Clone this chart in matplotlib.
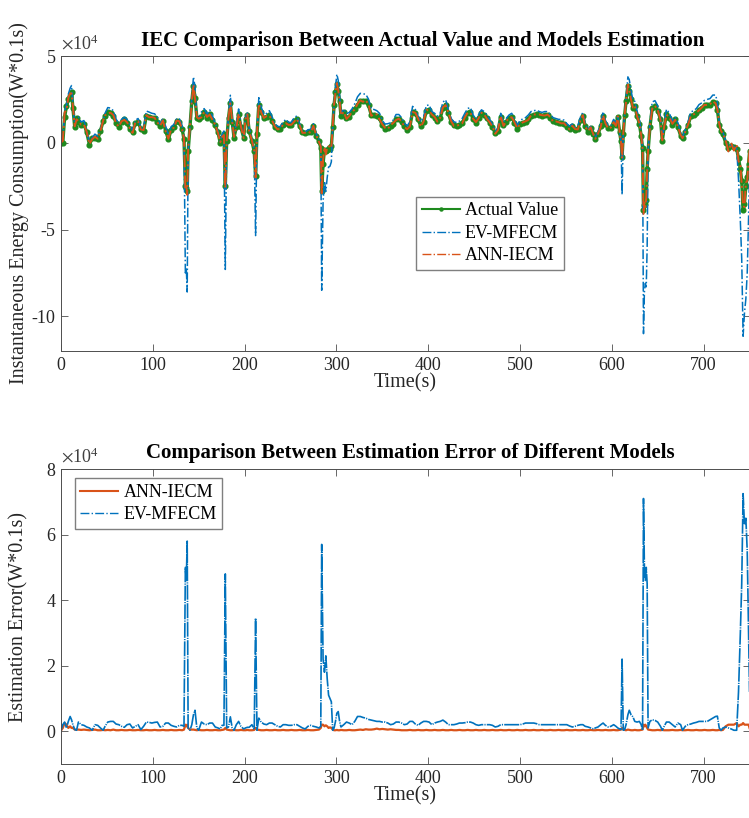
import matplotlib
matplotlib.use("Agg")
import matplotlib.pyplot as plt
import numpy as np
from matplotlib.lines import Line2D

plt.rcParams['font.family'] = ['Liberation Serif', 'DejaVu Serif']
plt.rcParams['mathtext.fontset'] = 'stix'
plt.rcParams['axes.unicode_minus'] = False

# time (s) of each read-off sample
t = [0, 2, 4, 6, 8, 10, 11.5, 13, 15, 17,
     19, 22, 25, 28, 31, 34, 37, 40, 43, 46,
     48, 51, 54, 57, 60, 63, 66, 69, 72, 75,
     78, 81, 84, 87, 90, 93, 96, 99, 102, 105,
     108, 111, 114, 117, 120, 123, 126, 129, 132, 134,
     135.5, 136.5, 137.5, 138.5, 140.5, 142.5, 144.3, 146, 148, 150,
     153, 156, 159, 162, 165, 168, 171, 173.5, 175.5, 177.5,
     179, 180.5, 182.5, 184.5, 186.5, 188.5, 191, 193.5, 196, 199,
     201, 203, 205, 208, 210.5, 212, 213.5, 215.5, 218, 221,
     224, 227, 230, 233, 236, 239, 242, 245, 248, 251,
     254, 257, 260, 263, 266, 269, 272, 275, 278, 281,
     283, 284, 285.5, 287, 288.5, 290, 291.5, 293, 294.5, 296,
     297.5, 299, 300.5, 302, 303.5, 305, 308, 311, 314, 317,
     320, 323, 326, 329, 332, 335, 338, 341, 344, 347,
     350, 353, 356, 359, 362, 365, 368, 371, 374, 377,
     380, 383, 386, 389, 392, 395, 398, 401, 404, 407,
     410, 413, 416, 419, 422, 425, 428, 431, 434, 437,
     440, 443, 446, 449, 452, 455, 458, 461, 464, 467,
     470, 473, 476, 479, 482, 485, 488, 491, 494, 497,
     500, 503, 506, 509, 512, 515, 518, 521, 524, 527,
     530, 533, 536, 539, 542, 545, 548, 551, 554, 557,
     560, 563, 566, 568.5, 571, 574, 577, 580, 582, 585,
     588, 590.5, 593, 596, 599, 602, 604.5, 606.5, 608.5, 610,
     611.2, 612.5, 614, 615.5, 617.5, 619, 621, 623, 625, 627.5,
     630, 632, 633.5, 634.5, 635.5, 636.5, 637.5, 638.5, 639.5, 641.5,
     644, 647, 650, 653, 655, 657, 659.5, 662.5, 666, 669,
     672, 675, 677, 680, 683, 686, 689, 692, 695, 698,
     701, 704, 707, 710, 713, 715, 717, 719, 721, 724,
     727, 730, 733, 736, 738, 740, 741.5, 743, 744.5, 746,
     747.5, 749, 750]

# actual instantaneous energy consumption (x1e4 W*0.1s)
actual = [0.0, 0.0, 1.5, 2.1, 2.5, 2.7, 2.95, 2.0, 0.9, 1.4,
          1.2, 1.0, 1.1, 0.6, -0.1, 0.25, 0.3, 0.2, 0.7, 1.25,
          1.55, 1.75, 1.7, 1.55, 1.15, 0.9, 1.2, 1.35, 1.15, 0.8,
          0.6, 1.15, 1.2, 0.8, 0.7, 1.55, 1.5, 1.45, 1.4, 1.2,
          0.95, 1.25, 0.7, 0.2, 0.75, 0.9, 1.25, 1.2, 0.8, 0.2,
          -2.5, -2.6, -2.8, -0.5, 0.9, 2.4, 3.3, 2.6, 1.45, 1.35,
          1.5, 1.75, 1.45, 1.65, 1.3, 1.0, 0.6, 0.0, 0.3, 0.5,
          -2.5, 0.1, 1.45, 2.3, 1.2, 0.3, 0.9, 1.65, 0.9, 0.3,
          1.35, 1.6, 0.7, 0.1, -0.5, -1.9, 0.5, 2.2, 1.8, 1.4,
          1.5, 1.6, 1.25, 0.9, 0.8, 0.8, 1.0, 1.15, 1.0, 1.0,
          1.25, 1.35, 0.95, 0.6, 0.55, 0.6, 0.6, 0.95, 0.4, 0.1,
          -0.3, -2.8, -1.2, -0.4, -0.5, -0.4, -0.3, -0.35, -0.2, 0.9,
          2.2, 2.9, 3.4, 3.0, 2.4, 1.55, 1.75, 1.4, 1.5, 1.75,
          1.95, 2.2, 2.4, 2.4, 2.4, 2.15, 1.6, 1.6, 1.55, 1.4,
          1.0, 0.8, 0.85, 0.95, 1.1, 1.35, 1.35, 1.2, 0.95, 0.75,
          0.9, 1.8, 1.7, 1.35, 0.95, 1.2, 1.85, 1.9, 1.6, 1.45,
          1.25, 1.4, 2.0, 2.2, 1.7, 1.2, 1.0, 0.95, 1.0, 1.15,
          1.45, 1.7, 1.75, 1.35, 1.15, 1.45, 1.7, 1.6, 1.4, 1.15,
          0.9, 0.55, 0.7, 1.5, 1.0, 1.2, 1.4, 1.5, 1.15, 0.8,
          1.1, 1.15, 1.2, 1.35, 1.55, 1.6, 1.65, 1.6, 1.55, 1.6,
          1.6, 1.45, 1.25, 1.2, 1.15, 1.15, 1.1, 0.9, 0.8, 0.95,
          0.75, 0.8, 1.3, 1.55, 0.95, 0.65, 0.85, 0.5, 0.2, 0.5,
          0.95, 1.55, 1.1, 0.85, 0.85, 1.15, 1.0, 1.5, 0.6, 0.1,
          -0.8, 0.5, 1.6, 2.4, 3.3, 3.0, 2.5, 2.0, 2.1, 1.55,
          1.1, 0.4, -0.3, -3.9, -3.6, -3.5, -3.3, -1.5, -0.5, 0.9,
          2.0, 2.1, 1.85, 1.35, 0.1, 0.9, 1.65, 1.45, 1.05, 1.35,
          0.9, 0.4, 0.3, 0.6, 1.0, 1.55, 1.6, 1.7, 1.9, 2.0,
          2.15, 2.2, 2.2, 2.35, 2.3, 1.9, 1.05, 0.7, 0.5, 0.0,
          -0.3, -0.2, -0.25, -0.35, -0.9, -1.5, -2.2, -3.9, -3.5, -2.5,
          -2.0, -1.2, -0.5]

# EV-MFECM estimate minus actual (x1e4)
ev_dev = [0.03, 0.2, 0.28, 0.1, 0.3, 0.45, 0.35, 0.2, 0.05, 0.03,
          0.28, 0.2, 0.18, 0.13, 0.1, 0.03, 0.2, 0.18, 0.1, 0.03,
          0.15, 0.28, 0.3, 0.3, 0.22, 0.2, 0.15, 0.12, 0.2, 0.22,
          0.1, 0.15, 0.2, 0.05, 0.15, 0.28, 0.27, 0.25, 0.27, 0.28,
          0.13, 0.15, 0.25, 0.25, 0.18, 0.15, 0.13, 0.18, 0.18, 0.15,
          -5.0, -4.6, -5.8, -0.1, 0.03, 0.2, 0.5, 0.64, 0.1, 0.03,
          0.28, 0.22, 0.2, 0.25, 0.25, 0.13, 0.1, 0.07, 0.18, 0.18,
          -4.8, -0.1, 0.13, 0.44, 0.1, 0.03, 0.2, 0.3, 0.15, 0.07,
          0.1, 0.12, 0.12, 0.2, 0.05, -3.45, 0.03, 0.4, 0.28, 0.22,
          0.2, 0.25, 0.25, 0.2, 0.15, 0.13, 0.2, 0.2, 0.18, 0.18,
          0.2, 0.2, 0.15, 0.1, 0.07, 0.15, 0.18, 0.15, 0.13, 0.1,
          0.15, -5.7, -2.2, -1.8, -2.3, -1.6, -1.1, -1.0, -0.9, 0.03,
          0.1, 0.3, 0.55, 0.6, 0.3, 0.13, 0.2, 0.28, 0.25, 0.2,
          0.3, 0.45, 0.45, 0.42, 0.4, 0.36, 0.34, 0.32, 0.3, 0.3,
          0.28, 0.28, 0.25, 0.2, 0.22, 0.28, 0.28, 0.25, 0.2, 0.22,
          0.3, 0.3, 0.22, 0.18, 0.25, 0.3, 0.3, 0.28, 0.2, 0.25,
          0.28, 0.3, 0.34, 0.28, 0.2, 0.2, 0.2, 0.22, 0.25, 0.25,
          0.26, 0.28, 0.28, 0.25, 0.2, 0.18, 0.2, 0.2, 0.2, 0.2,
          0.18, 0.13, 0.15, 0.2, 0.2, 0.2, 0.2, 0.2, 0.2, 0.2,
          0.2, 0.22, 0.25, 0.25, 0.25, 0.25, 0.23, 0.2, 0.2, 0.2,
          0.2, 0.2, 0.2, 0.2, 0.2, 0.2, 0.2, 0.2, 0.16, 0.13,
          0.15, 0.18, 0.2, 0.2, 0.15, 0.13, 0.1, 0.07, 0.1, 0.13,
          0.2, 0.25, 0.18, 0.13, 0.15, 0.2, 0.15, 0.1, 0.07, 0.05,
          -2.2, 0.03, 0.05, 0.2, 0.5, 0.64, 0.5, 0.44, 0.3, 0.28,
          0.3, 0.2, 0.03, -7.1, -5.0, -4.6, -5.0, -4.5, -0.1, 0.3,
          0.35, 0.33, 0.28, 0.15, 0.03, 0.15, 0.28, 0.28, 0.2, 0.13,
          0.25, 0.2, 0.03, 0.15, 0.2, 0.22, 0.25, 0.27, 0.3, 0.3,
          0.3, 0.3, 0.35, 0.4, 0.45, 0.46, 0.1, 0.03, 0.1, 0.13,
          0.1, 0.07, 0.03, 0.03, -1.2, -3.0, -4.5, -7.25, -6.3, -6.5,
          -5.5, -3.0, -1.2]

# ANN-IECM estimate minus actual (x1e4)
ann_dev = [0.02, 0.1, 0.25, -0.2, 0.1, 0.15, -0.1, 0.1, 0.05, -0.05,
           0.05, 0.04, -0.05, 0.04, 0.03, -0.04, 0.05, 0.03, -0.03, 0.04,
           0.03, -0.04, 0.03, 0.05, -0.03, 0.03, 0.04, -0.03, 0.03, 0.04,
           -0.03, 0.03, 0.04, -0.03, 0.03, 0.04, -0.03, 0.03, 0.04, -0.03,
           0.03, 0.04, -0.03, 0.03, 0.04, -0.03, 0.03, 0.04, -0.03, 0.05,
           -0.2, 0.15, -0.2, 0.1, 0.05, -0.05, 0.05, -0.04, 0.03, 0.04,
           -0.03, 0.03, 0.04, -0.03, 0.03, 0.04, -0.03, 0.03, 0.04, -0.05,
           -0.1, 0.05, 0.04, -0.03, 0.03, 0.04, -0.03, 0.03, 0.04, -0.03,
           0.03, 0.04, -0.03, 0.03, 0.04, -0.1, 0.05, 0.04, -0.03, 0.03,
           0.04, -0.03, 0.03, 0.04, -0.03, 0.03, 0.04, -0.03, 0.03, 0.04,
           -0.03, 0.03, 0.04, -0.03, 0.03, 0.04, -0.03, 0.03, 0.04, -0.05,
           0.1, -0.2, 0.2, 0.15, -0.18, 0.15, 0.1, 0.12, -0.1, 0.05,
           0.03, -0.03, 0.04, 0.03, -0.03, 0.04, 0.03, -0.03, 0.04, 0.03,
           -0.03, 0.04, 0.05, -0.04, 0.06, 0.05, -0.05, 0.06, 0.08, -0.06,
           0.07, 0.06, -0.05, 0.06, 0.05, -0.04, 0.04, 0.03, -0.03, 0.03,
           0.04, -0.03, 0.03, 0.04, -0.03, 0.03, 0.04, -0.03, 0.03, 0.04,
           -0.03, 0.03, 0.04, -0.03, 0.03, 0.04, -0.03, 0.03, 0.04, -0.03,
           0.03, 0.04, -0.03, 0.03, 0.04, -0.03, 0.03, 0.04, -0.03, 0.03,
           0.04, -0.03, 0.03, 0.04, -0.03, 0.03, 0.04, -0.03, 0.03, 0.04,
           -0.03, 0.03, 0.04, -0.03, 0.03, 0.04, -0.03, 0.03, 0.04, -0.03,
           0.03, 0.04, -0.03, 0.03, 0.04, -0.03, 0.03, 0.04, -0.03, 0.03,
           0.04, -0.03, 0.03, 0.04, -0.03, 0.03, 0.04, -0.03, 0.03, 0.04,
           -0.03, 0.03, 0.04, -0.03, 0.03, 0.04, -0.03, 0.03, 0.04, -0.05,
           -0.1, 0.05, 0.04, -0.03, 0.05, 0.04, -0.03, 0.03, 0.04, -0.03,
           0.03, 0.04, -0.05, -0.2, 0.15, -0.2, 0.15, -0.1, 0.05, 0.04,
           -0.03, 0.03, 0.04, -0.03, 0.04, 0.03, -0.03, 0.03, 0.04, -0.03,
           0.03, 0.04, -0.03, 0.03, 0.04, -0.03, 0.03, 0.04, -0.03, 0.03,
           0.04, -0.03, 0.03, 0.04, -0.03, 0.03, 0.04, -0.03, 0.04, 0.15,
           -0.2, 0.2, -0.2, 0.25, -0.15, 0.2, -0.2, 0.25, -0.2, 0.2,
           -0.2, 0.2, 0.1]

xticks = [0, 100, 200, 300, 400, 500, 600, 700]
yticks_top = [-10, -5, 0, 5]
yticks_bot = [0, 2, 4, 6, 8]

t = np.array(t)
actual = np.array(actual)
ev_dev = np.array(ev_dev)
ann_dev = np.array(ann_dev)
ev = actual + ev_dev
ann = actual + ann_dev

green = '#1e8a1e'
blue = '#0072BD'
orange = '#D95319'
axc = '#4d4d4d'
txc = '#262626'

fig = plt.figure(figsize=(7.49, 8.18), dpi=100)
ax1 = fig.add_axes([0.0814, 0.5709, 0.9193, 0.3606])
ax2 = fig.add_axes([0.0814, 0.0660, 0.9193, 0.3606])

# top: estimates vs actual
ax1.plot(t, actual, color=green, lw=2.4, marker='o', ms=3.4, label='Actual Value')
ax1.plot(t, ev, color=blue, lw=1.1, ls='-.', label='EV-MFECM')
ax1.plot(t, ann, color=orange, lw=1.4, ls='-.', label='ANN-IECM')
ax1.set_xlim(0, 750)
ax1.set_ylim(-12, 5)
ax1.set_yticks(yticks_top)
ax1.set_title('IEC Comparison Between Actual Value and Models Estimation',
              fontsize=15, fontweight='bold', x=0.525, pad=7)
ax1.set_ylabel('Instantaneous Energy Consumption(W*0.1s)', fontsize=14.5, color=txc)
h1 = [Line2D([], [], color=green, lw=1.5, marker='o', ms=2.2),
      Line2D([], [], color=blue, lw=1.0, ls='-.'),
      Line2D([], [], color=orange, lw=1.0, ls='-.')]
ax1.legend(h1, ['Actual Value', 'EV-MFECM', 'ANN-IECM'], loc='upper left',
           bbox_to_anchor=(0.516, 0.522), borderaxespad=0, fontsize=13,
           fancybox=False, framealpha=1, edgecolor='#7f7f7f', handlelength=2.1,
           borderpad=0.3, labelspacing=0.3, handletextpad=0.3)

# bottom: absolute errors
ax2.plot(t, np.abs(ann_dev), color=orange, lw=1.6, label='ANN-IECM')
ax2.plot(t, np.abs(ev_dev), color=blue, lw=1.2, dashes=(9, 0.7, 0.7, 0.7), label='EV-MFECM')
ax2.set_xlim(0, 750)
ax2.set_ylim(-1, 8)
ax2.set_yticks(yticks_bot)
ax2.set_title('Comparison Between Estimation Error of Different Models',
              fontsize=15, fontweight='bold', x=0.507, pad=8)
ax2.set_ylabel('Estimation Error(W*0.1s)', fontsize=14.5, color=txc)
h2 = [Line2D([], [], color=orange, lw=1.5),
      Line2D([], [], color=blue, lw=1.0, ls='-.')]
ax2.legend(h2, ['ANN-IECM', 'EV-MFECM'], loc='upper left',
           bbox_to_anchor=(0.02, 0.968), borderaxespad=0, fontsize=13,
           fancybox=False, framealpha=1, edgecolor='#7f7f7f', handlelength=2.1,
           borderpad=0.3, labelspacing=0.3, handletextpad=0.3)

for ax in (ax1, ax2):
    ax.set_xticks(xticks)
    ax.set_xlabel('Time(s)', fontsize=14.5, color=txc, labelpad=0)
    ax.tick_params(direction='in', top=True, right=True, length=5, width=0.6,
                   color=axc, labelcolor=txc, labelsize=13, pad=4)
    for s in ax.spines.values():
        s.set_color(axc)
        s.set_linewidth(0.7)
    ax.yaxis.set_label_coords(-0.047, 0.5)
    ax.text(0.0, 1.008, r'$\times\mathregular{10^4}$', transform=ax.transAxes,
            fontsize=13, color='#404040', ha='left', va='bottom')

fig.savefig('out.png', dpi=100)
